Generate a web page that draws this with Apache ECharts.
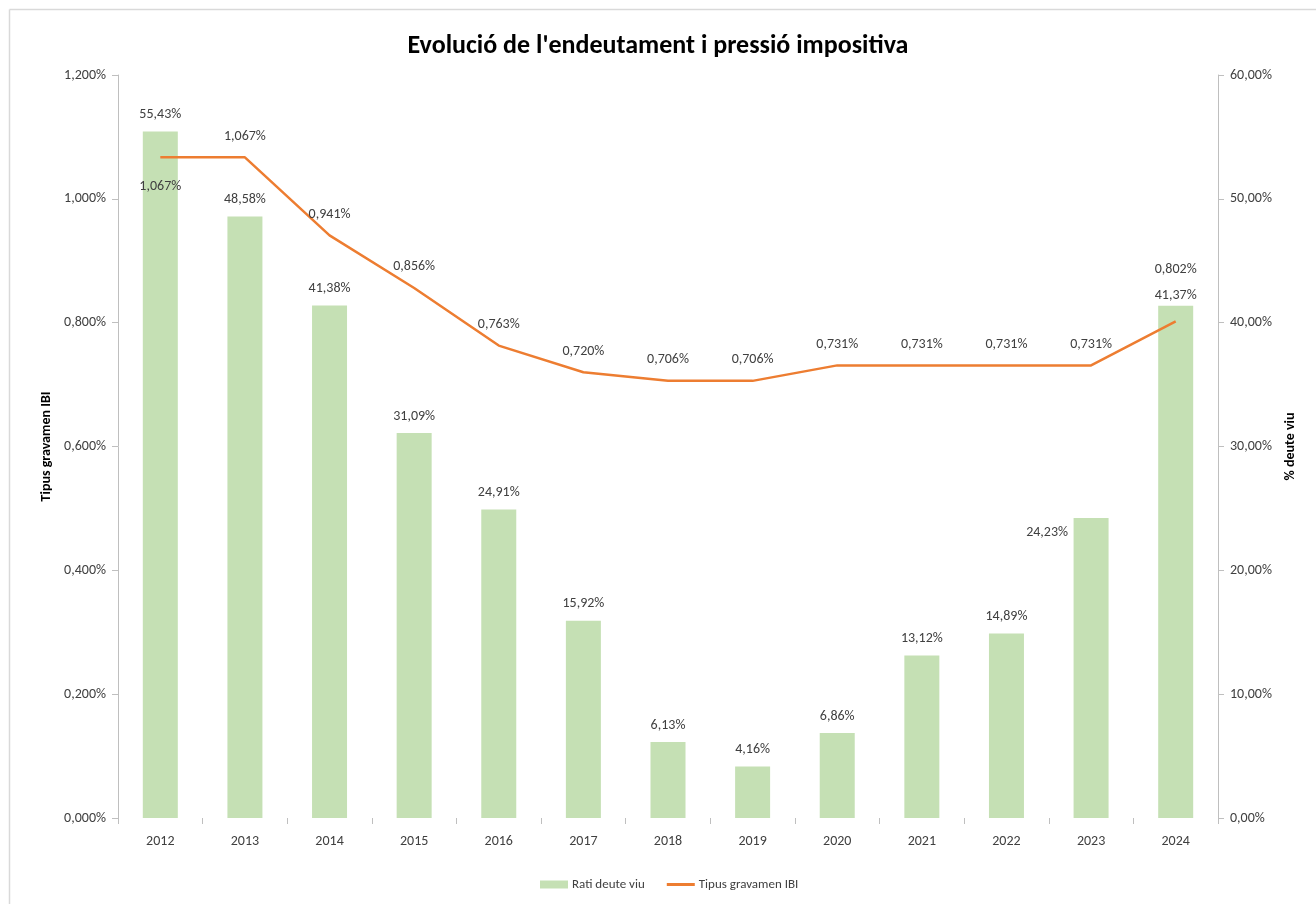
<!DOCTYPE html>
<html>
<head>
<meta charset="utf-8">
<script src="https://cdn.jsdelivr.net/npm/echarts@6/dist/echarts.min.js"></script>
<style>
html,body{margin:0;padding:0;background:#fff;}
#main{width:1316px;height:904px;}
</style>
</head>
<body>
<div id="main"></div>
<script>
const years = ['2012','2013','2014','2015','2016','2017','2018','2019','2020','2021','2022','2023','2024'];
const ratiDeute = [55.43, 48.58, 41.38, 31.09, 24.91, 15.92, 6.13, 4.16, 6.86, 13.12, 14.89, 24.23, 41.37];
const tipusIBI = [1.067, 1.067, 0.941, 0.856, 0.763, 0.720, 0.706, 0.706, 0.731, 0.731, 0.731, 0.731, 0.802];
const leftTicks = [0, 0.2, 0.4, 0.6, 0.8, 1.0, 1.2];
const rightTicks = [0, 10, 20, 30, 40, 50, 60];

const FONT = "Carlito, 'Liberation Sans Narrow', 'Liberation Sans', sans-serif";
const txt = '#404040';

const barData = ratiDeute.map((v, i) => {
  const d = {value: v};
  if (i === 11) d.label = {position: 'top', offset: [-44, 32]};
  if (i === 12) d.label = {distance: 3};
  return d;
});
const lineData = tipusIBI.map((v, i) => {
  const d = {value: v};
  if (i === 0) d.label = {position: 'bottom', distance: 22};
  if (i === 12) d.label = {position: 'top', distance: 45};
  return d;
});

const chart = echarts.init(document.getElementById('main'), null, {renderer: 'canvas'});
chart.setOption({
  backgroundColor: '#fff',
  animation: false,
  textStyle: {fontFamily: FONT},
  title: {
    text: "Evolució de l'endeutament i pressió impositiva",
    left: 'center', top: 28,
    textStyle: {fontFamily: FONT, fontSize: 26, fontWeight: 'bold', color: '#000'}
  },
  graphic: [
    {type: 'line', shape: {x1: 9.5, y1: 9.5, x2: 1316, y2: 9.5}, style: {stroke: '#d9d9d9', lineWidth: 1.5}},
    {type: 'line', shape: {x1: 9.5, y1: 9.5, x2: 9.5, y2: 904}, style: {stroke: '#d9d9d9', lineWidth: 1.5}}
  ],
  legend: {
    bottom: 8, left: 535,
    itemWidth: 28, itemHeight: 8, itemGap: 22,
    textStyle: {fontFamily: FONT, fontSize: 13, color: txt, padding: [0, 0, 0, -1]},
    data: [
      {name: 'Rati deute viu', icon: 'rect'},
      {name: 'Tipus gravamen IBI', icon: 'path://M0,0 L28,0 L28,3 L0,3 Z'}
    ]
  },
  grid: {left: 118, right: 98, top: 75, bottom: 86, containLabel: false},
  xAxis: {
    type: 'category', data: years,
    axisLine: {show: false},
    axisTick: {show: true, length: 6, lineStyle: {color: '#bfbfbf'}},
    axisLabel: {fontFamily: FONT, fontSize: 14, color: txt, margin: 16}
  },
  yAxis: [
    {
      type: 'value', min: 0, max: 1.2, interval: 0.2,
      name: 'Tipus gravamen IBI', nameLocation: 'middle', nameGap: 62, nameRotate: 90,
      nameTextStyle: {fontFamily: FONT, fontSize: 14, fontWeight: 'bold', color: '#000'},
      axisLine: {show: true, lineStyle: {color: '#bfbfbf'}},
      axisTick: {show: true, length: 6, lineStyle: {color: '#bfbfbf'}},
      splitLine: {show: false},
      axisLabel: {fontFamily: FONT, fontSize: 14, color: txt, margin: 12,
        formatter: v => v.toFixed(3).replace('.', ',') + '%'}
    },
    {
      type: 'value', min: 0, max: 60, interval: 10,
      name: '% deute viu', nameLocation: 'middle', nameGap: 65, nameRotate: 90,
      nameTextStyle: {fontFamily: FONT, fontSize: 14, fontWeight: 'bold', color: '#000'},
      axisLine: {show: true, lineStyle: {color: '#bfbfbf'}},
      axisTick: {show: true, length: 6, lineStyle: {color: '#bfbfbf'}},
      splitLine: {show: false},
      axisLabel: {fontFamily: FONT, fontSize: 14, color: txt, margin: 12,
        formatter: v => v.toFixed(2).replace('.', ',') + '%'}
    }
  ],
  series: [
    {
      name: 'Rati deute viu', type: 'bar', yAxisIndex: 1,
      data: barData, barWidth: 35,
      itemStyle: {color: '#c5e0b4'},
      label: {show: true, position: 'top', distance: 10, fontFamily: FONT, fontSize: 14, color: txt,
        formatter: p => p.value.toFixed(2).replace('.', ',') + '%'}
    },
    {
      name: 'Tipus gravamen IBI', type: 'line', yAxisIndex: 0,
      data: lineData, symbol: 'circle', symbolSize: 0.1, showSymbol: true,
      lineStyle: {color: '#ed7d31', width: 2.5},
      itemStyle: {color: '#ed7d31'},
      label: {show: true, position: 'top', distance: 14, fontFamily: FONT, fontSize: 14, color: txt,
        formatter: p => p.value.toFixed(3).replace('.', ',') + '%'},
      z: 5
    }
  ]
});
</script>
</body>
</html>
